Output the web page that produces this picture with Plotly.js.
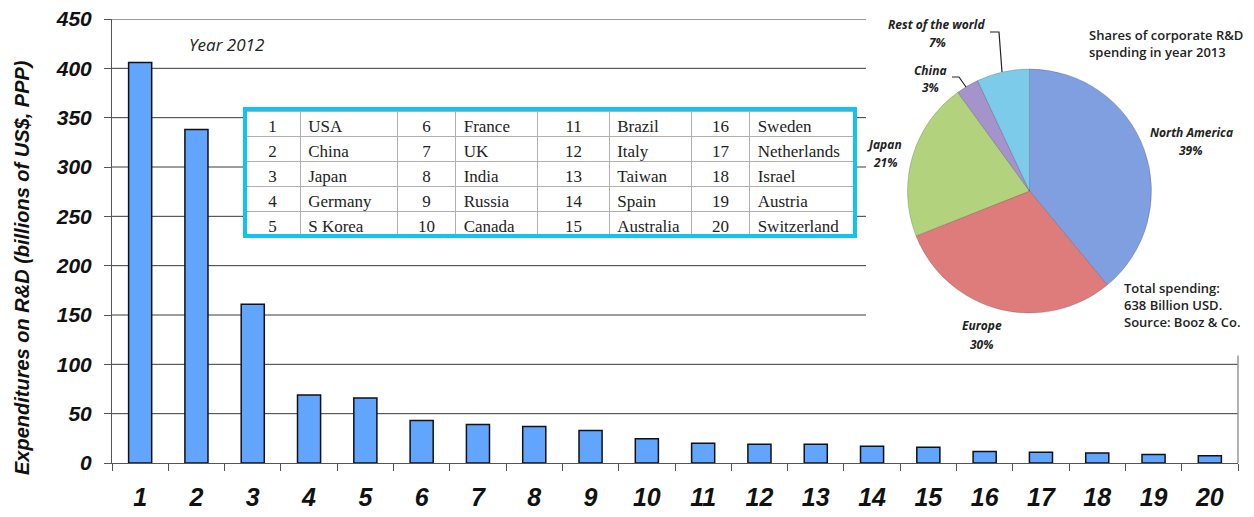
<!DOCTYPE html>
<html>
<head>
<meta charset="utf-8">
<script src="https://cdn.plot.ly/plotly-3.0.1.min.js"></script>
<style>html,body{margin:0;padding:0;background:#fff;}#chart{width:1254px;height:517px;}</style>
</head>
<body>
<div id="chart"></div>
<script>
// ---- data ----
const ranks = [1,2,3,4,5,6,7,8,9,10,11,12,13,14,15,16,17,18,19,20];
const rdSpending = [406,338,161,69,66,43,39,37,33,24.5,20,19,19,17,16,11.7,11,10.2,8.5,7.3];
const countries = ["USA","China","Japan","Germany","S Korea","France","UK","India","Russia","Canada",
                   "Brazil","Italy","Taiwan","Spain","Australia","Sweden","Netherlands","Israel","Austria","Switzerland"];
const yTicks = [0,50,100,150,200,250,300,350,400,450];
const pieRegions = ["North America","Europe","Japan","China","Rest of the world"];
const pieShares = [39,30,21,3,7];
const pieColors = ["#7F9FE0","#DE7C7C","#B2D27D","#A593CB","#7DCBEA"];

// ---- layout helpers (pixel -> paper) ----
const L = 112, R = 16, T = 19, B = 54, W = 1254, H = 517;
const PW = W - L - R, PH = H - T - B;
const px = x => (x - L) / PW;
const py = y => (H - B - y) / PH;

// table columns built from data (first row is drawn as the table's header row)
const tblCols = [];
for (let c = 0; c < 4; c++) {
  tblCols.push(ranks.slice(c*5, c*5+5).map(String));
  tblCols.push(countries.slice(c*5, c*5+5));
}
const tblHead = tblCols.map(col => col[0]);
const tblBody = tblCols.map(col => col.slice(1));

const serif = "Liberation Serif, DejaVu Serif, serif";
const sans = "Liberation Sans, Arial, sans-serif";
const calib = "Open Sans, Noto Sans, sans-serif";
const tblAlign = ["center","left","center","left","center","left","center","left"];
const tblFont = { family: serif, size: 17, color: "#222" };

const barTrace = {
  type: "bar",
  x: ranks.map(String),
  y: rdSpending,
  marker: { color: "#62A5FF", line: { color: "#111", width: 1.5 } },
  hoverinfo: "x+y"
};

const tableTrace = {
  type: "table",
  domain: { x: [px(245), px(855)], y: [py(236), py(111)] },
  columnwidth: [55, 97, 58, 82, 71, 82, 58, 105],
  header: {
    values: tblHead, height: 25, align: tblAlign,
    line: { color: "#B0B0B0", width: 1 }, fill: { color: "#ffffff" }, font: tblFont
  },
  cells: {
    values: tblBody, height: 25, align: tblAlign,
    line: { color: "#B0B0B0", width: 1 }, fill: { color: "#ffffff" }, font: tblFont
  }
};

const pieTrace = {
  type: "pie",
  labels: pieRegions,
  values: pieShares,
  sort: false,
  direction: "clockwise",
  rotation: 0,
  textinfo: "none",
  marker: { colors: pieColors, line: { color: "rgba(40,40,40,0.35)", width: 0.6 } },
  domain: { x: [px(907.5), px(1151.5)], y: [py(313), py(69)] },
  showlegend: false,
  hoverinfo: "label+percent"
};

const shapes = [];
yTicks.forEach(v => {
  if (v === 0) return;
  shapes.push({ type: "line", layer: "below", xref: "paper", yref: "y",
    x0: 0, x1: v > 100 ? px(866) : 1, y0: v, y1: v,
    line: { color: "#3a3a3a", width: 1 } });
});
shapes.push({ type: "line", layer: "below", xref: "paper", yref: "y",
  x0: 1, x1: 1, y0: 0, y1: 109, line: { color: "#999", width: 1.5 } });
// table border
shapes.push({ type: "rect", xref: "paper", yref: "paper",
  x0: px(245), x1: px(855), y0: py(236), y1: py(109),
  line: { color: "#12C3F2", width: 4 } });
// pie leader lines
shapes.push({ type: "path", xref: "paper", yref: "paper",
  path: `M ${px(990)} ${py(32)} L ${px(999)} ${py(32)} L ${px(1002)} ${py(72)}`,
  line: { color: "#222", width: 1.2 } });
shapes.push({ type: "path", xref: "paper", yref: "paper",
  path: `M ${px(952)} ${py(77)} L ${px(959)} ${py(77)} L ${px(966)} ${py(87)}`,
  line: { color: "#222", width: 1.2 } });

// pie label positions (pixels): [nameX, nameY, pctX, pctY]
const pieLabelPos = [[1191,132,1191,150],[982,326,982,344],[884,144,885,162],[930,70,930,88],[936,24,937,42]];

const annotations = [];
pieRegions.forEach((name, i) => {
  const p = pieLabelPos[i];
  annotations.push({ xref: "paper", yref: "paper", x: px(p[0]), y: py(p[1]), text: name,
    showarrow: false, xanchor: "center", yanchor: "middle",
    font: { family: calib, size: 12, style: "italic", weight: 700, color: "#222" } });
  annotations.push({ xref: "paper", yref: "paper", x: px(p[2]), y: py(p[3]), text: pieShares[i] + "%",
    showarrow: false, xanchor: "center", yanchor: "middle",
    font: { family: calib, size: 12, style: "italic", weight: 700, color: "#222" } });
});
annotations.push({ xref: "paper", yref: "paper", x: px(1087), y: py(44), xanchor: "left", yanchor: "middle",
  align: "left", showarrow: false, text: "Shares of corporate R&amp;D<br>spending in year 2013",
  font: { family: calib, size: 13, weight: 600, color: "#222" } });
annotations.push({ xref: "paper", yref: "paper", x: px(1122), y: py(305), xanchor: "left", yanchor: "middle",
  align: "left", showarrow: false, text: "Total spending:<br>638 Billion USD.<br>Source: Booz &amp; Co.",
  font: { family: calib, size: 13, weight: 600, color: "#222" } });
annotations.push({ xref: "paper", yref: "paper", x: px(226), y: py(45), xanchor: "center", yanchor: "middle",
  showarrow: false, text: "Year 2012",
  font: { family: calib, size: 17, style: "italic", color: "#222" } });
annotations.push({ xref: "paper", yref: "paper", x: px(22), y: py(268), xanchor: "center", yanchor: "middle",
  showarrow: false, textangle: -90, text: "Expenditures on R&amp;D (billions of US$, PPP)",
  font: { family: sans, size: 20, style: "italic", weight: 700, color: "#111" } });

const layout = {
  width: W, height: H,
  margin: { l: L, r: R, t: T, b: B, pad: 0 },
  paper_bgcolor: "#fff", plot_bgcolor: "#fff",
  showlegend: false,
  bargap: 0.59,
  xaxis: {
    type: "category", tickson: "boundaries", ticks: "outside", ticklen: 7, tickcolor: "#555",
    showline: true, linecolor: "#555", linewidth: 1, showgrid: false, zeroline: false,
    range: [-0.5, 19.5], ticklabelstandoff: 12,
    tickfont: { family: sans, size: 25, style: "italic", weight: 700, color: "#111" }
  },
  yaxis: {
    range: [0, 450], tickvals: yTicks, ticks: "outside", ticklen: 7, tickcolor: "#555",
    showline: true, linecolor: "#555", linewidth: 1, showgrid: false, zeroline: false,
    ticklabelstandoff: 8,
    tickfont: { family: sans, size: 21, style: "italic", weight: 700, color: "#111" }
  },
  shapes: shapes,
  annotations: annotations
};

Plotly.newPlot("chart", [barTrace, tableTrace, pieTrace], layout, { displayModeBar: false, staticPlot: true });
</script>
</body>
</html>
